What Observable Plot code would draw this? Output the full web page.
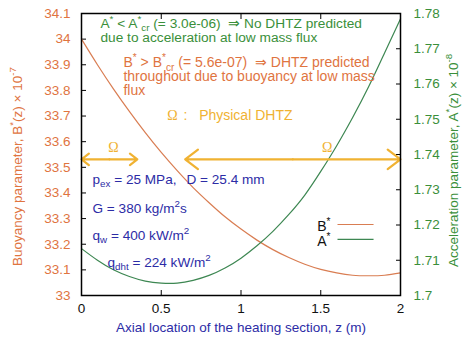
<!DOCTYPE html>
<html>
<head>
<meta charset="utf-8">
<script src="https://cdn.jsdelivr.net/npm/d3@7"></script>
<script src="https://cdn.jsdelivr.net/npm/@observablehq/plot@0.6"></script>
<style>
  body { margin: 0; background: #fff; }
  #chart svg { display: block; }
</style>
</head>
<body>
<div id="chart"></div>
<script>
// Axial positions along the heated section (m)
const zPoints = [0, 0.1, 0.2, 0.3, 0.4, 0.5, 0.6, 0.7, 0.8, 0.9, 1.0,
                 1.1, 1.2, 1.3, 1.4, 1.5, 1.6, 1.7, 1.8, 1.9, 2.0];
// Buoyancy parameter B*(z) x 1e-7
const buoyancy = [34.000, 33.900, 33.806, 33.718, 33.635, 33.558, 33.487,
                  33.421, 33.362, 33.307, 33.259, 33.216, 33.179, 33.148,
                  33.122, 33.102, 33.088, 33.079, 33.077, 33.079, 33.088];
// Acceleration parameter A*(z) x 1e-8
const acceleration = [1.7133, 1.7100, 1.7073, 1.7054, 1.7041, 1.7035, 1.7035,
                      1.7043, 1.7057, 1.7078, 1.7106, 1.7141, 1.7182, 1.7230,
                      1.7285, 1.7352, 1.7425, 1.7505, 1.7592, 1.7688, 1.7785];

const bTicks = [33, 33.1, 33.2, 33.3, 33.4, 33.5, 33.6, 33.7, 33.8, 33.9, 34, 34.1];
const aTicks = [1.70, 1.71, 1.72, 1.73, 1.74, 1.75, 1.76, 1.77, 1.78];
const zTicks = [0, 0.5, 1, 1.5, 2];

// Physical DHTZ extents (m) and the level at which they are marked
const omegaSpans = [{z1: 0, z2: 0.35}, {z1: 0.65, z2: 2}];
const omegaLevel = 33.531;

const greenNote = [
  {text: "A^{*} < A^{*}_{cr} (= 3.0e-06)  \u21d2 No DHTZ predicted", z: 0.119, b: 34.061},
  {text: "due to acceleration at low mass flux", z: 0.119, b: 34.006}
];
const orangeNote = [
  {text: "B^{*} > B^{*}_{cr} (= 5.6e-07)  \u21d2 DHTZ predicted", z: 0.263, b: 33.909},
  {text: "throughout due to buoyancy at low mass", z: 0.263, b: 33.854},
  {text: "flux", z: 0.263, b: 33.800}
];
const blueNote = [
  {text: "p_{ex} = 25 MPa,", z: 0.069, b: 33.453},
  {text: "D = 25.4 mm", z: 0.658, b: 33.453},
  {text: "G = 380 kg/m^{2}s", z: 0.069, b: 33.340},
  {text: "q_{w} = 400 kW/m^{2}", z: 0.069, b: 33.234},
  {text: "q_{dht} = 224 kW/m^{2}", z: 0.163, b: 33.129}
];

const ORANGE = "#e0743f";
const ORANGE_LINE = "#d97d52";
const GREEN = "#3a8f3a";
const GREEN_LINE = "#3d8752";
const BLUE = "#2c2ca6";
const GOLD = "#f0b232";
const FONT = "Liberation Sans, Arial, Helvetica, sans-serif";

// A* shares the frame with B*: map its range [1.70, 1.78] onto [33, 34.1]
const aToY = a => 33 + (a - 1.70) / 0.08 * 1.1;
const yToA = y => 1.70 + (y - 33) / 1.1 * 0.08;

const bSeries = zPoints.map((z, i) => ({z, v: buoyancy[i]}));
const aSeries = zPoints.map((z, i) => ({z, v: aToY(acceleration[i])}));

const chart = Plot.plot({
  width: 471,
  height: 343,
  marginLeft: 81,
  marginRight: 71,
  marginTop: 13,
  marginBottom: 48,
  style: {fontFamily: FONT, fontSize: "13px", background: "#fff"},
  x: {domain: [0, 2]},
  y: {domain: [33, 34.1]},
  marks: [
    Plot.axisY({anchor: "left", ticks: bTicks, tickSize: -5, tickPadding: 16,
      fill: ORANGE, fontSize: 13.5, label: null, tickFormat: d => String(+d.toFixed(1))}),
    Plot.axisY({anchor: "right", ticks: aTicks.map(aToY), tickSize: -5, tickPadding: 18,
      fill: GREEN, fontSize: 13.5, label: null, tickFormat: d => String(+yToA(d).toFixed(2))}),
    Plot.axisX({anchor: "bottom", ticks: zTicks, tickSize: -5, tickPadding: 13,
      fill: "#111", fontSize: 13.5, label: null, tickFormat: d => String(d)}),
    Plot.axisX({anchor: "top", ticks: zTicks, tickSize: -5, label: null, tickFormat: () => ""}),

    Plot.line(bSeries, {x: "z", y: "v", stroke: ORANGE_LINE, strokeWidth: 1.2, curve: "natural"}),
    Plot.line(aSeries, {x: "z", y: "v", stroke: GREEN_LINE, strokeWidth: 1.2, curve: "natural"}),

    // Physical DHTZ ranges: double-headed arrows
    Plot.arrow(omegaSpans, {x1: d => (d.z1 + d.z2) / 2, x2: "z1", y1: () => omegaLevel, y2: () => omegaLevel,
      stroke: GOLD, strokeWidth: 2.2, headLength: 11, headAngle: 75}),
    Plot.arrow(omegaSpans, {x1: d => (d.z1 + d.z2) / 2, x2: "z2", y1: () => omegaLevel, y2: () => omegaLevel,
      stroke: GOLD, strokeWidth: 2.2, headLength: 11, headAngle: 75}),
    Plot.text(omegaSpans, {x: d => d.z1 === 0 ? 0.2 : 1.54, y: () => 33.577, text: () => "\u03a9",
      fill: GOLD, fontSize: 14, fontFamily: "Liberation Serif, serif"}),
    Plot.text(["\u03a9"], {x: () => 0.57, y: () => 33.702, fill: GOLD, fontSize: 14,
      fontFamily: "Liberation Serif, serif"}),
    Plot.text([":   Physical DHTZ"], {x: () => 0.64, y: () => 33.702, fill: GOLD, fontSize: 14,
      textAnchor: "start"}),

    // Notes
    Plot.text(greenNote, {x: "z", y: "b", text: "text", fill: GREEN, fontSize: 13.7, textAnchor: "start"}),
    Plot.text(orangeNote, {x: "z", y: "b", text: "text", fill: ORANGE, fontSize: 14, textAnchor: "start"}),
    Plot.text(blueNote, {x: "z", y: "b", text: "text", fill: BLUE, fontSize: 13.6, textAnchor: "start"}),

    // Legend
    Plot.text(["B^{*}", "A^{*}"], {x: () => 1.561, y: (d, i) => [33.269, 33.211][i], text: d => d,
      fill: "#111", fontSize: 14, textAnchor: "end"}),
    Plot.link([0, 1], {x1: () => 1.605, x2: () => 1.831, y1: i => [33.277, 33.219][i], y2: i => [33.277, 33.219][i],
      stroke: (d, i) => [ORANGE_LINE, GREEN_LINE][i], strokeWidth: 1.2}),

    // Axis titles
    Plot.text(["Buoyancy parameter, B^{*}(z) \u00d7 10^{-7}"], {x: () => -0.401, y: () => 33.503, rotate: -90,
      fill: ORANGE, fontSize: 13.5}),
    Plot.text(["Acceleration parameter, A^{*}(z) \u00d7 10^{-8}"], {x: () => 2.332, y: () => 33.527, rotate: -90,
      fill: GREEN, fontSize: 13.5}),
    Plot.text(["Axial location of the heating section, z (m)"], {frameAnchor: "bottom", dy: 36,
      fill: BLUE, fontSize: 13.5}),

    Plot.frame({stroke: "#000", strokeWidth: 1.5})
  ]
});

// Turn ^{..} and _{..} into raised / lowered tspans
function richText(svg) {
  svg.querySelectorAll("text").forEach(t => {
    const s = t.textContent;
    if (!/[\^_]\{/.test(s)) return;
    const fs = parseFloat(getComputedStyle(t).fontSize) || 13;
    const parts = [];
    const re = /([\^_])\{([^}]*)\}/g;
    let last = 0, m;
    while ((m = re.exec(s))) {
      if (m.index > last) parts.push({kind: "n", s: s.slice(last, m.index)});
      parts.push({kind: m[1] === "^" ? "sup" : "sub", s: m[2]});
      last = re.lastIndex;
    }
    if (last < s.length) parts.push({kind: "n", s: s.slice(last)});
    while (t.firstChild) t.removeChild(t.firstChild);
    let cur = 0;
    for (const p of parts) {
      const ts = document.createElementNS("http://www.w3.org/2000/svg", "tspan");
      const target = p.kind === "sup" ? -0.42 * fs : p.kind === "sub" ? 0.26 * fs : 0;
      if (target !== cur) ts.setAttribute("dy", target - cur);
      cur = target;
      if (p.kind !== "n") ts.setAttribute("font-size", 0.72 * fs);
      ts.textContent = p.s;
      t.appendChild(ts);
    }
  });
}

document.getElementById("chart").appendChild(chart);
richText(chart);
</script>
</body>
</html>
